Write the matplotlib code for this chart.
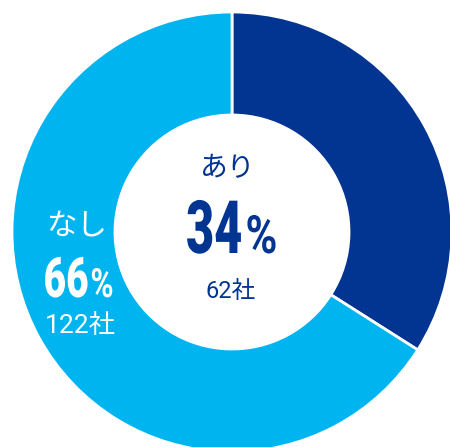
import matplotlib.pyplot as plt
from matplotlib import patheffects
from matplotlib.transforms import Affine2D

# data
labels = ['あり', 'なし']
shares = [34, 66]
counts = [62, 122]
colors = ['#023591', '#00b5ef']


class Squeeze(patheffects.AbstractPathEffect):
    # narrow the glyphs horizontally (condensed look) around the left or right end
    def __init__(self, sx, anchor='left'):
        super().__init__()
        self.sx = sx
        self.anchor = anchor

    def draw_path(self, renderer, gc, tpath, affine, rgbFace=None):
        ext = tpath.get_extents()
        x0 = ext.x1 if self.anchor == 'right' else ext.x0
        sq = Affine2D().translate(-x0, 0).scale(self.sx, 1).translate(x0, 0)
        renderer.draw_path(gc, tpath, sq + affine, rgbFace)


fig = plt.figure(figsize=(4.5, 4.47), dpi=100)
ax = fig.add_axes([0, 0, 1, 1])
ax.pie(shares, colors=colors, startangle=90, counterclock=False, radius=220,
       wedgeprops=dict(width=103, edgecolor='white', linewidth=2))
ax.set_xlim(-232, 218)
ax.set_ylim(-215, 232)
ax.set_aspect('equal')
ax.axis('off')

jp = ['Noto Sans CJK JP', 'DejaVu Sans']
num = ['Roboto', 'Noto Sans CJK JP', 'DejaVu Sans']

# center label (あり)
ax.text(-4, 64, labels[0], color=colors[0], fontsize=20, family=jp, ha='center', va='center')
ax.text(11, -21, str(shares[0]), color=colors[0], fontsize=53, family='Roboto', weight='black',
        ha='right', va='baseline', path_effects=[Squeeze(0.66, 'right')])
ax.text(13, -21, '%', color=colors[0], fontsize=38, family='Roboto', weight='bold',
        ha='left', va='baseline', path_effects=[Squeeze(0.82)])
ax.text(-1, -60, f'{counts[0]}社', color=colors[0], fontsize=17, family=num, ha='center', va='center')

# left label (なし)
ax.text(-155, 5, labels[1], color='white', fontsize=22, family=jp, ha='center', va='center')
ax.text(-143, -65, str(shares[1]), color='white', fontsize=40, family='Roboto', weight='black',
        ha='right', va='baseline', path_effects=[Squeeze(0.7, 'right')])
ax.text(-142, -65, '%', color='white', fontsize=29, family='Roboto', weight='bold',
        ha='left', va='baseline', path_effects=[Squeeze(0.78)])
ax.text(-152, -94, f'{counts[1]}社', color='white', fontsize=19, family=num, ha='center', va='center')

fig.savefig('out.png', dpi=100)
